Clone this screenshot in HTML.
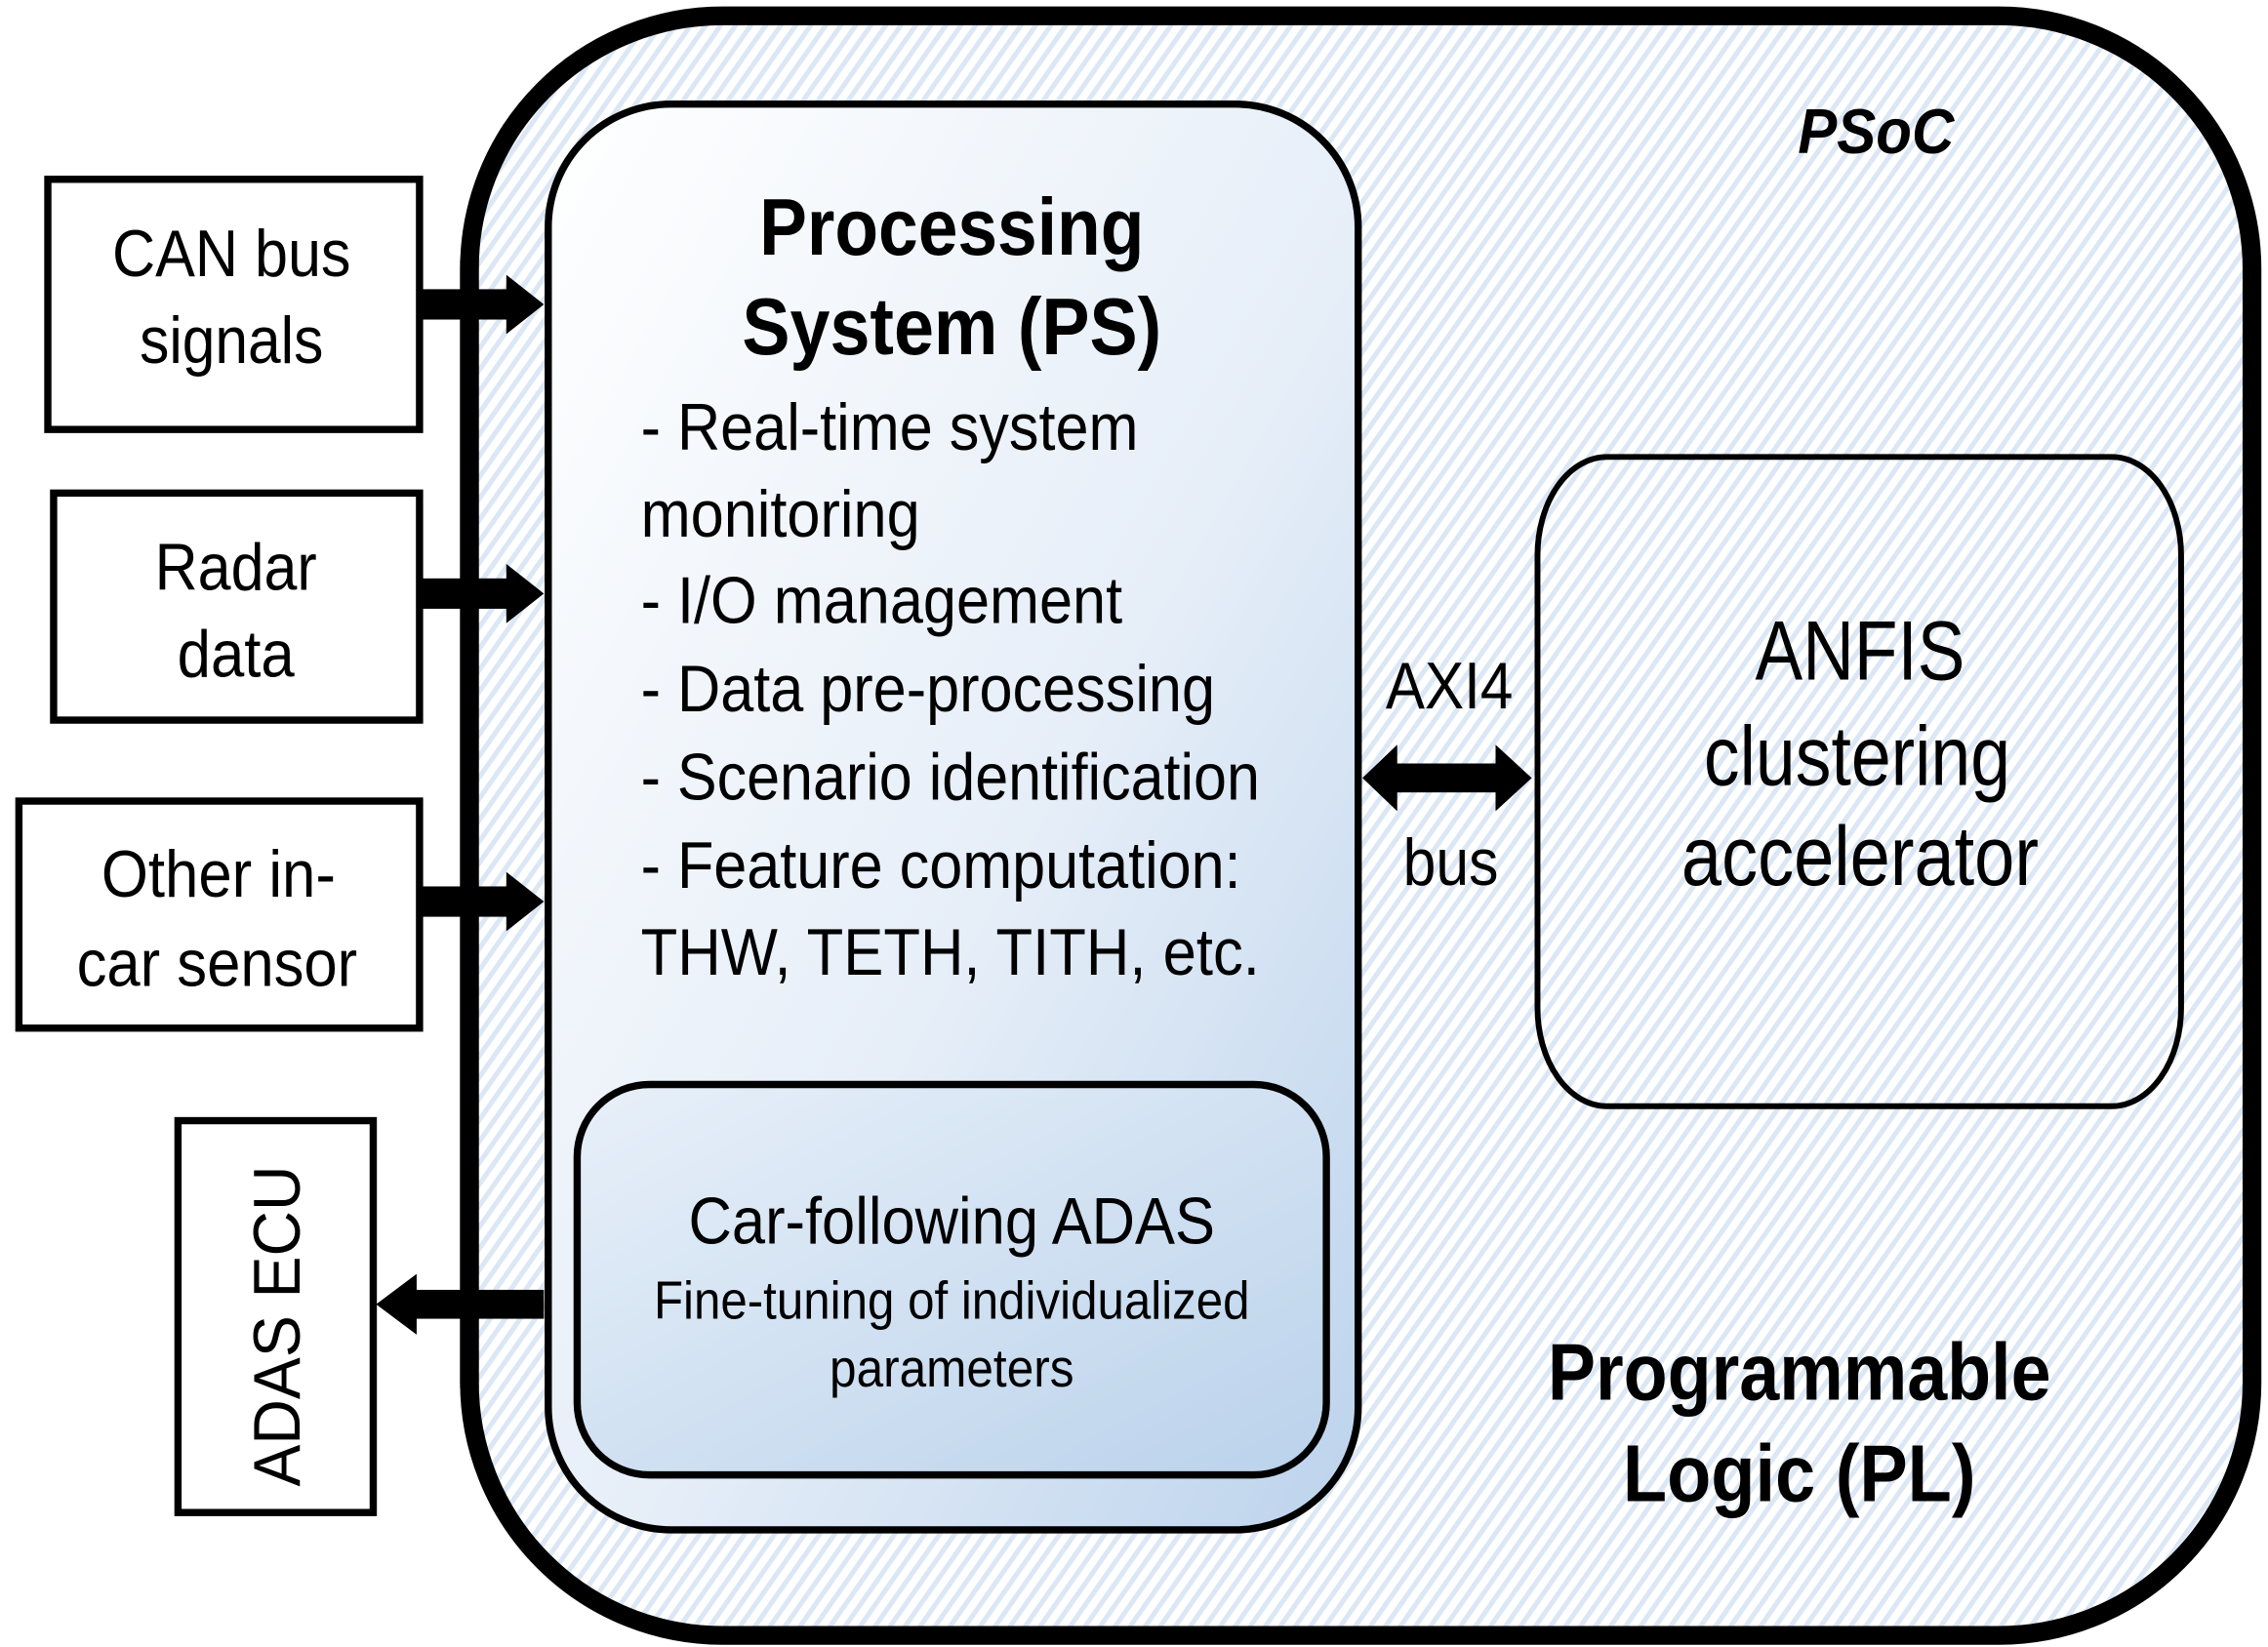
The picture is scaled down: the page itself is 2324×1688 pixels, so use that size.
<!DOCTYPE html>
<html><head><meta charset="utf-8"><style>
html,body{margin:0;padding:0;background:#fff;}
svg{display:block;}
text{font-family:"Liberation Sans",Arial,sans-serif;fill:#000;}
</style></head><body>
<svg width="2324" height="1688" viewBox="0 0 1568 1139" xmlns="http://www.w3.org/2000/svg">
<defs>
<pattern id="hatch" width="8.5" height="40" patternUnits="userSpaceOnUse" patternTransform="rotate(35)">
<rect width="8.5" height="40" fill="#fff"/>
<rect width="3.4" height="40" fill="#dbe7f4"/>
</pattern>
<linearGradient id="gps" x1="0" y1="0" x2="1" y2="1">
<stop offset="0" stop-color="#ffffff"/>
<stop offset="0.55" stop-color="#e6eef8"/>
<stop offset="1" stop-color="#bcd3ec"/>
</linearGradient>
<linearGradient id="gin" x1="0" y1="0" x2="1" y2="1">
<stop offset="0" stop-color="#e8f0f9"/>
<stop offset="1" stop-color="#bad2eb"/>
</linearGradient>
</defs>

<!-- outer PSoC -->
<rect x="324.5" y="11" width="1232.5" height="1120" rx="175" ry="175" fill="url(#hatch)" stroke="#000" stroke-width="13"/>

<!-- PS box -->
<rect x="379" y="72" width="560" height="986" rx="85" ry="85" fill="url(#gps)" stroke="#000" stroke-width="5"/>
<!-- inner ADAS -->
<rect x="399" y="750" width="518" height="270" rx="50" ry="50" fill="url(#gin)" stroke="#000" stroke-width="5"/>

<!-- ANFIS box -->
<rect x="1063" y="316" width="445" height="449" rx="48" ry="68" fill="none" stroke="#000" stroke-width="4"/>

<!-- left boxes -->
<rect x="33" y="124" width="257" height="173" fill="#fff" stroke="#000" stroke-width="5"/>
<rect x="37" y="341" width="253" height="157" fill="#fff" stroke="#000" stroke-width="5"/>
<rect x="13" y="554" width="277" height="157" fill="#fff" stroke="#000" stroke-width="5"/>
<rect x="123" y="775" width="135" height="271" fill="#fff" stroke="#000" stroke-width="5"/>

<!-- input arrows -->
<g fill="#000">
<rect x="290" y="200" width="62" height="21"/><polygon points="350,190 376,210.5 350,231"/>
<rect x="290" y="400" width="62" height="21"/><polygon points="350,390 376,410.5 350,431"/>
<rect x="290" y="613" width="62" height="21"/><polygon points="350,603 376,623.5 350,644"/>
<!-- output arrow -->
<rect x="286" y="892" width="90" height="20"/><polygon points="288,881 260,902 288,923"/>
<!-- AXI4 double arrow -->
<rect x="960" y="528" width="80" height="20"/>
<polygon points="966,515 942,538 966,561"/>
<polygon points="1034,515 1059,538 1034,561"/>
</g>

<!-- outer left edge drawn over arrows -->
<line x1="324.5" y1="180" x2="324.5" y2="960" stroke="#000" stroke-width="13"/>

<!-- PS text -->
<text x="658" y="176" font-size="56" font-weight="bold" text-anchor="middle" textLength="266" lengthAdjust="spacingAndGlyphs">Processing</text>
<text x="658" y="245" font-size="56" font-weight="bold" text-anchor="middle" textLength="290" lengthAdjust="spacingAndGlyphs">System (PS)</text>
<g font-size="46">
<text x="443" y="311" textLength="344" lengthAdjust="spacingAndGlyphs">- Real-time system</text>
<text x="443" y="371" textLength="193" lengthAdjust="spacingAndGlyphs">monitoring</text>
<text x="443" y="431" textLength="333" lengthAdjust="spacingAndGlyphs">- I/O management</text>
<text x="443" y="492" textLength="397" lengthAdjust="spacingAndGlyphs">- Data pre-processing</text>
<text x="443" y="553" textLength="428" lengthAdjust="spacingAndGlyphs">- Scenario identification</text>
<text x="443" y="614" textLength="415" lengthAdjust="spacingAndGlyphs">- Feature computation:</text>
<text x="443" y="674" textLength="428" lengthAdjust="spacingAndGlyphs">THW, TETH, TITH, etc.</text>
</g>
<text x="658" y="860" font-size="46" text-anchor="middle" textLength="364" lengthAdjust="spacingAndGlyphs">Car-following ADAS</text>
<text x="658" y="912" font-size="37" text-anchor="middle" textLength="412" lengthAdjust="spacingAndGlyphs">Fine-tuning of individualized</text>
<text x="658" y="959" font-size="37" text-anchor="middle" textLength="169" lengthAdjust="spacingAndGlyphs">parameters</text>

<!-- PSoC -->
<text x="1297" y="106" font-size="44" font-weight="bold" font-style="italic" text-anchor="middle" textLength="108" lengthAdjust="spacingAndGlyphs">PSoC</text>

<!-- AXI4 -->
<text x="1002" y="490" font-size="46" text-anchor="middle" textLength="88" lengthAdjust="spacingAndGlyphs">AXI4</text>
<text x="1003" y="612" font-size="46" text-anchor="middle" textLength="66" lengthAdjust="spacingAndGlyphs">bus</text>

<!-- ANFIS -->
<g font-size="58" text-anchor="middle">
<text x="1286" y="470" textLength="145" lengthAdjust="spacingAndGlyphs">ANFIS</text>
<text x="1284" y="543" textLength="212" lengthAdjust="spacingAndGlyphs">clustering</text>
<text x="1286" y="612" textLength="247" lengthAdjust="spacingAndGlyphs">accelerator</text>
</g>

<!-- PL -->
<text x="1244" y="968" font-size="56" font-weight="bold" text-anchor="middle" textLength="348" lengthAdjust="spacingAndGlyphs">Programmable</text>
<text x="1244" y="1038" font-size="56" font-weight="bold" text-anchor="middle" textLength="244" lengthAdjust="spacingAndGlyphs">Logic (PL)</text>

<!-- left labels -->
<g font-size="46" text-anchor="middle">
<text x="160" y="191" textLength="165" lengthAdjust="spacingAndGlyphs">CAN bus</text>
<text x="160" y="251" textLength="127" lengthAdjust="spacingAndGlyphs">signals</text>
<text x="163" y="408" textLength="112" lengthAdjust="spacingAndGlyphs">Radar</text>
<text x="163" y="468" textLength="81" lengthAdjust="spacingAndGlyphs">data</text>
<text x="151" y="620" textLength="162" lengthAdjust="spacingAndGlyphs">Other in-</text>
<text x="150" y="682" textLength="194" lengthAdjust="spacingAndGlyphs">car sensor</text>
<text x="0" y="0" transform="translate(207,917) rotate(-90)" textLength="222" lengthAdjust="spacingAndGlyphs">ADAS  ECU</text>
</g>
</svg>
</body></html>
